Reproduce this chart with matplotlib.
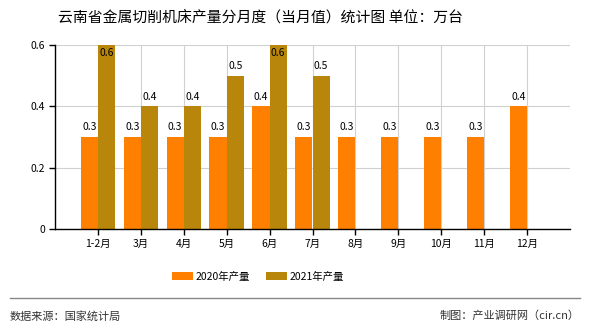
import matplotlib.pyplot as plt
import numpy as np

plt.rcParams['font.family'] = ['Noto Sans CJK SC', 'DejaVu Sans']

# data
months = ['1-2月', '3月', '4月', '5月', '6月', '7月', '8月', '9月', '10月', '11月', '12月']
prod_2020 = [0.3, 0.3, 0.3, 0.3, 0.4, 0.3, 0.3, 0.3, 0.3, 0.3, 0.4]
prod_2021 = [0.6, 0.4, 0.4, 0.5, 0.6, 0.5]
yticks = [0, 0.2, 0.4, 0.6]

c2020 = '#FF8000'
c2021 = '#B8860B'

fig = plt.figure(figsize=(5.9, 3.3), dpi=100)
ax = fig.add_axes([55/590, 1 - 229/330, 515/590, 184/330])

x = np.arange(len(months))
w = 0.4
ax.bar(x - w/2, prod_2020, w, color=c2020, label='2020年产量', zorder=2)
ax.bar(x[:len(prod_2021)] + w/2, prod_2021, w, color=c2021, label='2021年产量', zorder=2)

ymax = 0.6
for xs, vals in [(x - w/2, prod_2020), (x[:len(prod_2021)] + w/2, prod_2021)]:
    for xi, v in zip(xs, vals):
        if v >= ymax:
            ax.text(xi, v - 0.01, f'{v:.1f}', ha='center', va='top', fontsize=7.5, zorder=3)
        else:
            ax.text(xi, v + 0.015, f'{v:.1f}', ha='center', va='bottom', fontsize=7.5, zorder=3)

ax.set_xlim(-1, len(months))
ax.set_ylim(0, ymax)
ax.set_xticks(x)
ax.set_xticklabels(months, fontsize=7.5)
ax.set_yticks(yticks)
ax.set_yticklabels(['0', '0.2', '0.4', '0.6'], fontsize=7.5)
ax.grid(True, color='#d0d0d0', linewidth=0.8, zorder=0)
ax.set_axisbelow(True)
for s in ['top', 'right']:
    ax.spines[s].set_visible(False)
ax.spines['left'].set_linewidth(1)
ax.spines['bottom'].set_linewidth(1)
ax.tick_params(axis='both', length=4, width=1, pad=3)
ax.tick_params(axis='x', direction='out')

fig.text(261/590, 1 - 17/330, '云南省金属切削机床产量分月度（当月值）统计图 单位：万台',
         ha='center', va='center', fontsize=10.7)

fig.legend(loc='center', bbox_to_anchor=(258/590, 1 - 277/330), ncol=2, frameon=False,
           fontsize=7.5, handlelength=2.0, handleheight=0.8, columnspacing=1.5,
           handletextpad=0.3)

fig.add_artist(plt.Line2D([10/590, 580/590], [1 - 298/330, 1 - 298/330],
                          color='#888888', linewidth=1))
fig.text(10/590, 1 - 316/330, '数据来源：国家统计局', ha='left', va='center',
         fontsize=8, color='#333333')
fig.text(580/590, 1 - 316/330, '制图：产业调研网（cir.cn）', ha='right', va='center',
         fontsize=8, color='#333333')

fig.savefig('out.png', dpi=100)
